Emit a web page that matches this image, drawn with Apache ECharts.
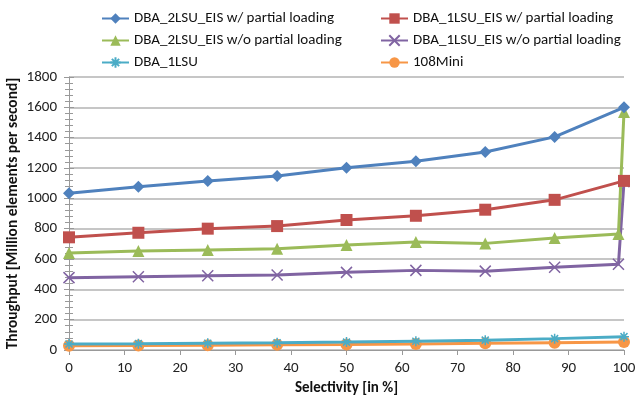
<!DOCTYPE html>
<html><head><meta charset="utf-8">
<script src="https://cdn.jsdelivr.net/npm/echarts@6/dist/echarts.min.js"></script>
<style>html,body{margin:0;padding:0;background:#fff}#c{width:637px;height:401px}</style>
</head><body><div id="c"></div>
<script>
const seriesNames = ["DBA_2LSU_EIS w/ partial loading","DBA_1LSU_EIS w/ partial loading","DBA_2LSU_EIS w/o partial loading","DBA_1LSU_EIS w/o partial loading","DBA_1LSU","108Mini"];
const xBase = [0,12.5,25,37.5,50,62.5,75,87.5,100];
const xJump = [0,12.5,25,37.5,50,62.5,75,87.5,99,100];
const y2LSUwPL = [1033,1077,1114,1147,1202,1245,1305,1405,1600];
const y1LSUwPL = [743,773,800,817,857,885,925,990,1115];
const y2LSUwoPL = [640,652,660,668,692,712,703,738,765,1570];
const y1LSUwoPL = [477,483,490,495,512,525,520,545,565,1110];
const yDBA1LSU = [40,42,45,48,52,58,65,75,88];
const y108Mini = [28,30,32,34,36,40,44,48,52];
const xTicks = [0,10,20,30,40,50,60,70,80,90,100];
const yTicks = [0,200,400,600,800,1000,1200,1400,1600,1800];

const colors = ["#4F81BD","#C0504D","#9BBB59","#8064A2","#4BACC6","#F79646"];
const symbols = ["diamond","rect","triangle","path://M0,0L10,10M10,0L0,10","path://M5,0L5,10M0,5L10,5M1.5,1.5L8.5,8.5M8.5,1.5L1.5,8.5","circle"];
const sizes = [12,12,12,11,10,12];
const xs = [xBase,xBase,xJump,xJump,xBase,xBase];
const ys = [y2LSUwPL,y1LSUwPL,y2LSUwoPL,y1LSUwoPL,yDBA1LSU,y108Mini];

const font = "Carlito, 'Liberation Sans Narrow', 'Noto Sans', sans-serif";
const series = seriesNames.map((n,i)=>({
  name:n, type:'line', data: xs[i].map((x,j)=>[x, ys[i][j]]),
  symbol: symbols[i], symbolSize: sizes[i], showAllSymbol:true,
  lineStyle:{color:colors[i], width:3},
  itemStyle:{color:colors[i], borderColor:colors[i], borderWidth:(i===3||i===4)?1.5:0},
  z: 10-i, animation:false
}));
const axisLabel = {color:'#222', fontFamily:font, fontSize:15};
const legendText = {fontFamily:font,fontSize:15,color:'#111'};
const chart = echarts.init(document.getElementById('c'));
chart.setOption({
  animation:false,
  backgroundColor:'#fff',
  legend:[
    {data:[seriesNames[0],seriesNames[2],seriesNames[4]], orient:'vertical', left:96, top:6, itemGap:7, itemWidth:27, itemHeight:13, textStyle:legendText},
    {data:[seriesNames[1],seriesNames[3],seriesNames[5]], orient:'vertical', left:375, top:6, itemGap:7, itemWidth:27, itemHeight:13, textStyle:legendText}
  ],
  grid:{left:69, right:13, top:77, bottom:51, containLabel:false, outerBoundsMode:'none'},
  xAxis:{type:'value', min:0, max:100, interval:10,
    name:'Selectivity [in %]', nameLocation:'middle', nameGap:31, nameMoveOverlap:false,
    nameTextStyle:{fontFamily:font, fontSize:15, fontWeight:'bold', color:'#111'},
    axisLine:{show:true, lineStyle:{color:'#999'}}, axisTick:{show:true, length:5, lineStyle:{color:'#999'}},
    axisLabel:Object.assign({margin:11, formatter:v=>xTicks.includes(v)?String(v):''},axisLabel), splitLine:{show:false}},
  yAxis:[{type:'value', min:0, max:1800, interval:200,
    name:'Throughput [Million elements per second]', nameLocation:'middle', nameGap:48, nameRotate:90, nameMoveOverlap:false,
    nameTextStyle:{fontFamily:font, fontSize:15.5, fontWeight:'bold', color:'#111'},
    axisLine:{show:true, lineStyle:{color:'#999'}}, axisTick:{show:true, length:5, lineStyle:{color:'#999'}},
    minorTick:{show:true, splitNumber:5, length:4, lineStyle:{color:'#999'}},
    axisLabel:Object.assign({margin:12, formatter:v=>yTicks.includes(v)?String(v):''},axisLabel),
    splitLine:{show:true, lineStyle:{color:'#b3b3b3', width:1.5}}},
   {type:'value', min:0, max:1800, interval:200, position:'left',
    axisLine:{show:false}, axisTick:{show:true, inside:true, length:5, lineStyle:{color:'#999'}},
    minorTick:{show:true, splitNumber:5, length:4, lineStyle:{color:'#999'}},
    axisLabel:{show:false}, splitLine:{show:false}}],
  series: series
});
</script></body></html>
